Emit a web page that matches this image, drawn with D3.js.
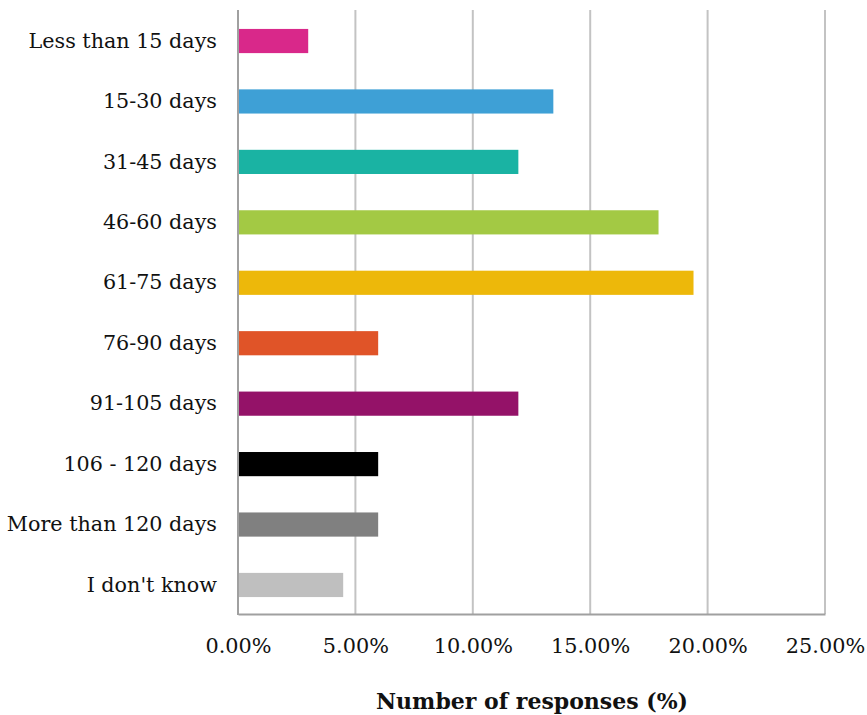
<!DOCTYPE html>
<html>
<head>
<meta charset="utf-8">
<script src="https://cdn.jsdelivr.net/npm/d3@7"></script>
<style>
  body { margin: 0; background: #fff; }
  .chart text { font-family: Georgia, "DejaVu Serif", serif; fill: #111; }
</style>
</head>
<body>
<div class="chart"></div>
<script>
  // chart values (percent of 67 responses)
  let categories = ['Less than 15 days', '15-30 days', '31-45 days', '46-60 days', '61-75 days',
    '76-90 days', '91-105 days', '106 - 120 days', 'More than 120 days', "I don't know"];
  let values = [2.99, 13.43, 11.94, 17.91, 19.40, 5.97, 11.94, 5.97, 5.97, 4.48];
  let colors = ['#d9288a', '#3ea0d6', '#1ab3a3', '#a3c944', '#edb80a', '#e05428',
    '#941268', '#000000', '#808080', '#bfbfbf'];
  let ticks = [0, 5, 10, 15, 20, 25];

  let svgContainer = d3.select('.chart').append('svg')
    .attr('width', 867)
    .attr('height', 715);

  let xScale = d3.scaleLinear()
    .domain([0, 25])
    .range([238, 825]);

  let yScale = d3.scaleBand()
    .domain(categories)
    .range([10.8, 615.2])
    .paddingInner(0.6)
    .paddingOuter(0.3);

  // gridlines
  svgContainer.selectAll('.grid')
    .data(ticks.slice(1))
    .enter()
    .append('line')
      .attr('x1', (d) => xScale(d))
      .attr('x2', (d) => xScale(d))
      .attr('y1', 10)
      .attr('y2', 614)
      .attr('stroke', '#c3c3c3')
      .attr('stroke-width', 2);

  // bars
  svgContainer.selectAll('rect')
    .data(values)
    .enter()
    .append('rect')
      .attr('x', xScale(0))
      .attr('y', (d, i) => yScale(categories[i]))
      .attr('width', (d) => xScale(d) - xScale(0))
      .attr('height', yScale.bandwidth())
      .attr('fill', (d, i) => colors[i]);

  // x axis
  let xAxis = d3.axisBottom(xScale)
    .tickValues(ticks)
    .tickSize(0)
    .tickPadding(24)
    .tickFormat((d) => d.toFixed(2) + '%');
  let gx = svgContainer.append('g')
    .attr('transform', 'translate(0, 614)')
    .call(xAxis);
  gx.select('.domain').attr('stroke', '#a0a0a0').attr('stroke-width', 2);
  gx.selectAll('text').style('font-size', '20.8px');

  // y axis
  let yAxis = d3.axisLeft(yScale)
    .tickSize(0)
    .tickPadding(21);
  let gy = svgContainer.append('g')
    .attr('transform', 'translate(238, 0)')
    .call(yAxis);
  gy.select('.domain').attr('stroke', '#a0a0a0').attr('stroke-width', 2)
    .attr('d', 'M0,10V615');
  gy.selectAll('text').style('font-size', '20.7px');

  svgContainer.append('text')
    .attr('x', 532)
    .attr('y', 709)
    .attr('text-anchor', 'middle')
    .style('font-size', '22px')
    .style('font-weight', 'bold')
    .text('Number of responses (%)');
</script>
</body>
</html>
